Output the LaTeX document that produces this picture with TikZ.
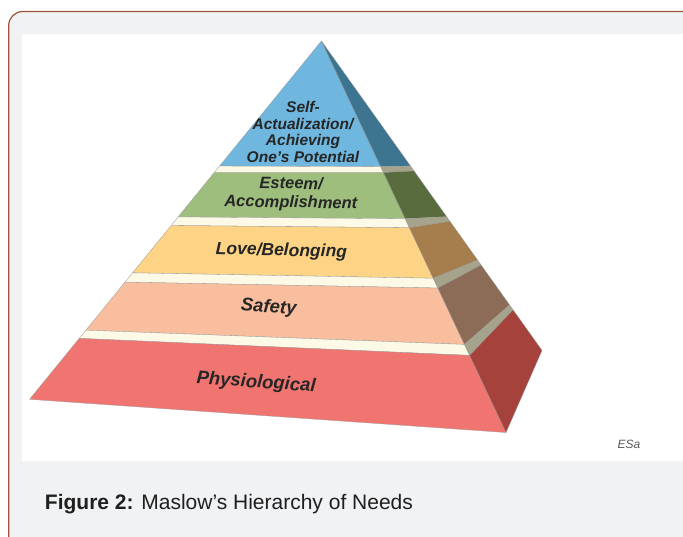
\documentclass[tikz,border=0pt]{standalone}
\usepackage{fontspec}
\setmainfont{Liberation Sans}
\usetikzlibrary{calc}

% front / side colours of the levels
\definecolor{skyF}{RGB}{111,183,222}
\definecolor{skyS}{RGB}{61,117,145}
\definecolor{leafF}{RGB}{158,190,126}
\definecolor{leafS}{RGB}{88,108,62}
\definecolor{sandF}{RGB}{253,212,134}
\definecolor{sandS}{RGB}{166,125,76}
\definecolor{peachF}{RGB}{249,190,157}
\definecolor{peachS}{RGB}{140,108,86}
\definecolor{roseF}{RGB}{240,116,112}
\definecolor{roseS}{RGB}{166,66,60}
\definecolor{creamF}{RGB}{252,249,230}
\definecolor{creamS}{RGB}{165,163,140}
\definecolor{framebrown}{RGB}{156,84,60}
\definecolor{panelgray}{RGB}{241,242,244}

\begin{document}
\begin{tikzpicture}[x=1pt, y=-1pt,
    seam/.style={draw=black!40, line width=0.3pt, line join=round},
    level/.style={font=\bfseries\itshape, text=black!85, inner sep=0pt, align=center}]
    \useasboundingbox (0,0) rectangle (683,536);
    \clip (0,0) rectangle (683,536);

    % Panel and picture area
    \draw[framebrown, line width=1.2pt, fill=panelgray, rounded corners=14pt]
        (8.7,11.5) rectangle (720,580);
    \fill[white] (21.8,33.5) rectangle (683,461);

    % Pyramid corners
    \coordinate (apex) at (321.4,41);
    \coordinate (bl) at (29.6,399.3);
    \coordinate (br) at (506,432.5);
    \coordinate (bk) at (542,350.4);

    % Bands top down: cuts on left edge, front ridge and back ridge
    \foreach \ta/\ra/\ka/\tb/\rb/\kb/\front/\side in {
        0/0/0/0.349/0.321/0.404/skyF/skyS,
        0.349/0.321/0.404/0.367/0.336/0.42/creamF/creamS,
        0.367/0.336/0.42/0.491/0.454/0.568/leafF/leafS,
        0.491/0.454/0.568/0.515/0.477/0.583/creamF/creamS,
        0.515/0.477/0.583/0.647/0.606/0.708/sandF/sandS,
        0.647/0.606/0.708/0.673/0.631/0.724/creamF/creamS,
        0.673/0.631/0.724/0.807/0.775/0.853/peachF/peachS,
        0.807/0.775/0.853/0.830/0.803/0.869/creamF/creamS,
        0.830/0.803/0.869/1/1/1/roseF/roseS}
    {
        \filldraw[seam, fill=\front] ($(apex)!\ta!(bl)$) -- ($(apex)!\ra!(br)$)
            -- ($(apex)!\rb!(br)$) -- ($(apex)!\tb!(bl)$) -- cycle;
        \filldraw[seam, fill=\side] ($(apex)!\ra!(br)$) -- ($(apex)!\ka!(bk)$)
            -- ($(apex)!\kb!(bk)$) -- ($(apex)!\rb!(br)$) -- cycle;
    }

    % Level labels
    \node[level, font=\bfseries\itshape\fontsize{15.5}{16.5}\selectfont] (selfact) at (303,132)
        {Self-\\Actualization/\\Achieving\\One's Potential};
    \node[level, font=\bfseries\itshape\fontsize{16.5}{18.8}\selectfont, rotate=-1] (esteem) at (291,194)
        {Esteem/\\Accomplishment};
    \node[level, font=\bfseries\itshape\fontsize{17.5}{20}\selectfont, rotate=-1.5] (love) at (281.4,251.3)
        {Love/Belonging};
    \node[level, font=\bfseries\itshape\fontsize{18.5}{20}\selectfont, rotate=-4] (safety) at (268.7,307.7)
        {Safety};
    \node[level, font=\bfseries\itshape\fontsize{18.5}{20}\selectfont, rotate=-4] (physio) at (256.1,383)
        {Physiological};

    % Signature and caption
    \node[font=\itshape\fontsize{12}{13}\selectfont, text=black!65] (sig) at (629,444) {ESa};
    \node[anchor=west, font=\fontsize{21}{23}\selectfont, text=black!88] (caption) at (41.4,504.3)
        {\textbf{Figure 2:} Maslow's Hierarchy of Needs};
\end{tikzpicture}
\end{document}
